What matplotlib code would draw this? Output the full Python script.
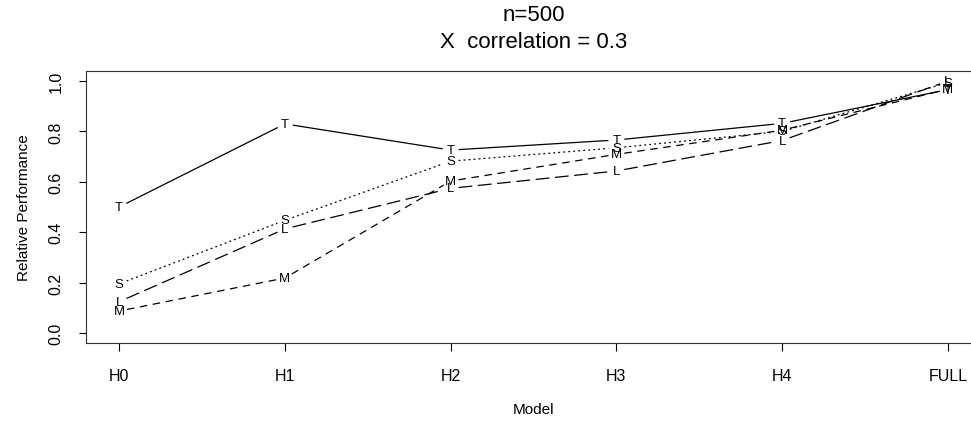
# Relative performance of the candidate models (H0..H4, FULL) for the four
# series T, S, M, L, drawn R-style (type="b": letters as points, lines with
# gaps around them).

import numpy as np
import matplotlib
matplotlib.use("Agg")
import matplotlib.pyplot as plt

plt.rcParams["font.family"] = ["Liberation Sans", "DejaVu Sans"]

models = ["H0", "H1", "H2", "H3", "H4", "FULL"]
perf_T = [0.50, 0.83, 0.726, 0.766, 0.832, 0.966]
perf_S = [0.195, 0.447, 0.682, 0.735, 0.80, 0.994]
perf_M = [0.087, 0.218, 0.603, 0.709, 0.805, 0.968]
perf_L = [0.124, 0.413, 0.574, 0.643, 0.764, 1.0]

series = [
    ("T", perf_T, "-"),
    ("S", perf_S, (0, (1.5, 2.5))),
    ("M", perf_M, (0, (6, 4.5))),
    ("L", perf_L, (0, (11, 4.5))),
]

GAP = 8.0  # pixels left empty around every letter

fig = plt.figure(figsize=(9.71, 4.27), dpi=100)
ax = fig.add_axes([86 / 971, 1 - 344 / 427, 895 / 971, 272 / 427])

x = np.arange(1, len(models) + 1)
ax.set_xlim(0.8, 6.2)
ax.set_ylim(-0.04, 1.04)

for letter, vals, ls in series:
    pts = np.column_stack([x, vals])
    pix = ax.transData.transform(pts)
    inv = ax.transData.inverted()
    for i in range(len(pix) - 1):
        p0, p1 = pix[i], pix[i + 1]
        d = p1 - p0
        length = np.hypot(*d)
        if length <= 2 * GAP:
            continue
        u = d / length
        seg = inv.transform(np.array([p0 + u * GAP, p1 - u * GAP]))
        ax.plot(seg[:, 0], seg[:, 1], color="black", lw=0.9, linestyle=ls,
                solid_capstyle="butt", dash_capstyle="butt")
    for xi, yi in zip(x, vals):
        ax.text(xi, yi, letter, ha="center", va="center", fontsize=9.5)

ax.set_xticks(x)
ax.set_xticklabels(models, fontsize=11.5)
ax.set_yticks([0.0, 0.2, 0.4, 0.6, 0.8, 1.0])
ax.set_yticklabels(["0.0", "0.2", "0.4", "0.6", "0.8", "1.0"], fontsize=11.5,
                   rotation=90, va="center")
ax.tick_params(axis="x", length=6, width=0.8, pad=12)
ax.tick_params(axis="y", length=5, width=0.8, pad=11)

ax.set_xlabel("Model", fontsize=11, labelpad=14)
ax.set_ylabel("Relative Performance", fontsize=11, labelpad=13)
ax.set_title("n=500\nX  correlation = 0.3", fontsize=16, linespacing=1.38,
             pad=17)

for sp in ax.spines.values():
    sp.set_linewidth(0.8)
    sp.set_color("#333333")

fig.savefig("out.png", dpi=100)
